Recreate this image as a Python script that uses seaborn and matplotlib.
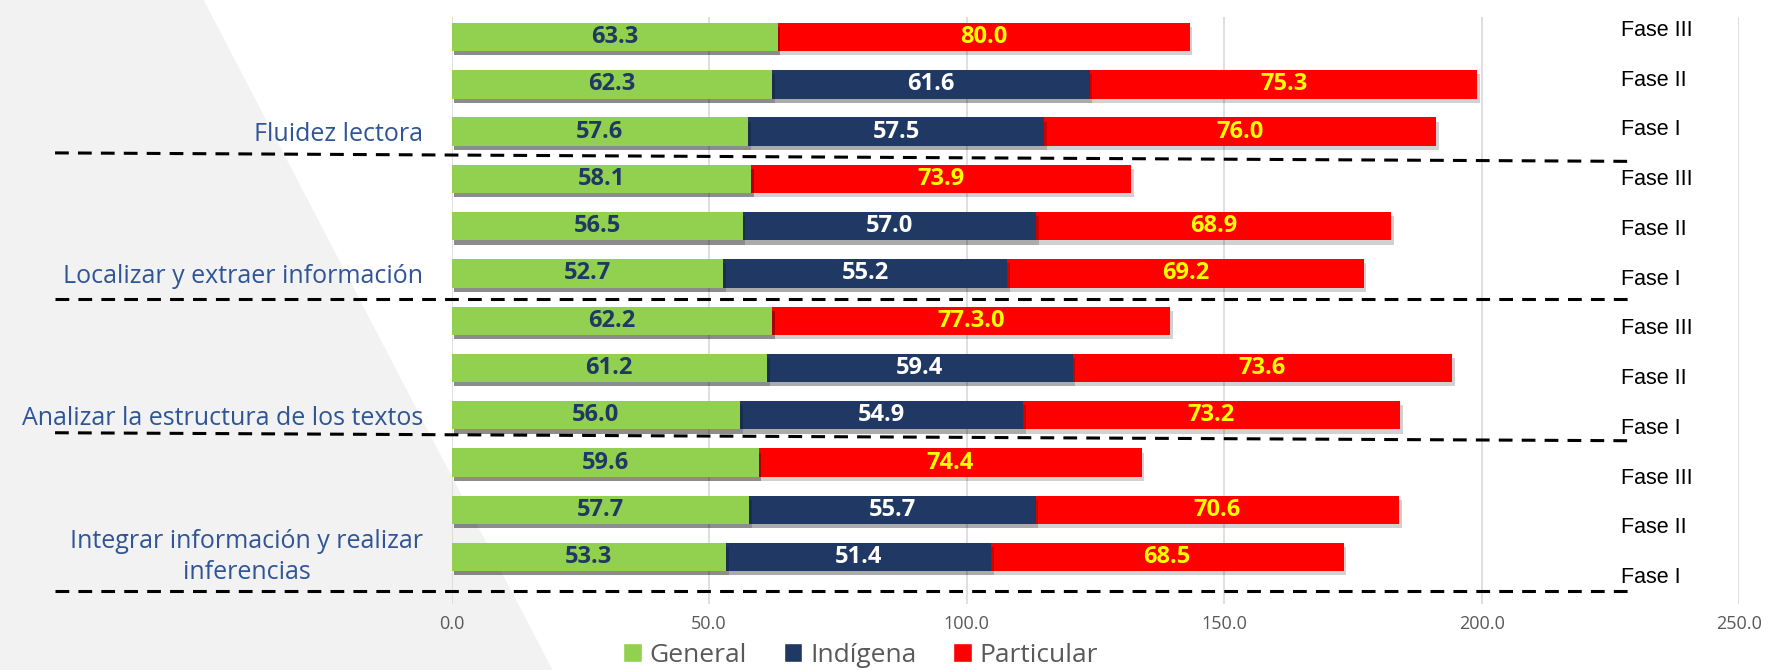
import numpy as np
import pandas as pd
import matplotlib
matplotlib.use("Agg")
import matplotlib.pyplot as plt
import matplotlib.patheffects as pe
from matplotlib.patches import Patch, Polygon
import seaborn as sns

# Data (top bar first)
competencias = ["Fluidez lectora", "Localizar y extraer información",
                "Analizar la estructura de los textos",
                "Integrar información y realizar\ninferencias"]
fases = ["Fase III", "Fase II", "Fase I"]

general = [63.3, 62.3, 57.6, 58.1, 56.5, 52.7, 62.2, 61.2, 56.0, 59.6, 57.7, 53.3]
indigena = [np.nan, 61.6, 57.5, np.nan, 57.0, 55.2, np.nan, 59.4, 54.9, np.nan, 55.7, 51.4]
particular = [80.0, 75.3, 76.0, 73.9, 68.9, 69.2, 77.3, 73.6, 73.2, 74.4, 70.6, 68.5]
particular_labels = ["80.0", "75.3", "76.0", "73.9", "68.9", "69.2",
                     "77.3.0", "73.6", "73.2", "74.4", "70.6", "68.5"]

x_ticks = [0, 50, 100, 150, 200, 250]

C_GEN = "#92d050"
C_IND = "#1f3864"
C_PAR = "#ff0000"

rows = [f"{c}|{f}" for c in competencias for f in fases]
df = pd.DataFrame({"row": rows, "General": general,
                   "Indígena": indigena, "Particular": particular})
df["Indígena0"] = df["Indígena"].fillna(0)
df["cum_gen"] = df["General"]
df["cum_ind"] = df["cum_gen"] + df["Indígena0"]
df["cum_par"] = df["cum_ind"] + df["Particular"]

sns.set_theme(style="white")
plt.rcParams["font.family"] = ["Open Sans", "DejaVu Sans"]

fig = plt.figure(figsize=(17.71, 6.70), dpi=100)

# light gray diagonal background
fig.patches.append(Polygon([(0, 1), (0.115, 1), (0.312, 0), (0, 0)], closed=True,
                           transform=fig.transFigure, facecolor="#f2f2f2",
                           edgecolor="none", zorder=-10))

ax = fig.add_axes([0.255, 0.098, 0.727, 0.877])
ax.set_zorder(1)
ax.patch.set_alpha(0)

shadow = [pe.SimplePatchShadow(offset=(2, -3), shadow_rgbFace="#000000", alpha=0.18),
          pe.Normal()]

# stacked bars via overlaid cumulative totals
for col, color in [("cum_par", C_PAR), ("cum_ind", C_IND), ("cum_gen", C_GEN)]:
    sns.barplot(data=df, x=col, y="row", orient="h", color=color, width=0.6,
                saturation=1, ax=ax, zorder=3, linewidth=0)
for p in ax.patches:
    p.set_path_effects(shadow)

# value labels
ypos = np.arange(len(df))
for i in ypos:
    g, ind, par = df.loc[i, "General"], df.loc[i, "Indígena"], df.loc[i, "Particular"]
    ax.text(g / 2, i, f"{g:.1f}", ha="center", va="center", color=C_IND,
            fontsize=17, fontweight="bold", zorder=5)
    if not np.isnan(ind):
        ax.text(g + ind / 2, i, f"{ind:.1f}", ha="center", va="center", color="white",
                fontsize=17, fontweight="bold", zorder=5)
    ax.text(df.loc[i, "cum_ind"] + par / 2, i, particular_labels[i], ha="center",
            va="center", color="#ffff00", fontsize=17, fontweight="bold", zorder=5)

# phase labels on the right
for i in ypos:
    ax.text(227, -0.14 + i * 1.052, fases[i % 3], ha="left", va="center", fontsize=15.5,
            color="black", family=["Liberation Sans", "DejaVu Sans"], zorder=5)

# competency labels on the left
comp_y = [2.07, 5.07, 8.07, 11.0]
for name, y in zip(competencias, comp_y):
    ax.text(-5.5, y, name, ha="right", va="center", fontsize=18, color="#2f5597",
            linespacing=1.35, multialignment="center", clip_on=False)

# dashed separators
separators = [(2.45, 2.63), (5.55, 5.55), (8.37, 8.54), (11.72, 11.72)]
for yl, yr in separators:
    ax.plot([-77, 230], [yl, yr], color="black", lw=2.2, ls=(0, (4.5, 3)),
            clip_on=False, zorder=6)

ax.set_xlim(0, 250)
ax.set_ylim(12.0, -0.43)
ax.set_xticks(x_ticks)
ax.set_xticklabels([f"{t:.1f}" for t in x_ticks], fontsize=13, color="#595959")
ax.set_yticks([])
ax.set_xlabel("")
ax.set_ylabel("")
ax.tick_params(axis="x", length=0, pad=8)
ax.grid(axis="x", color="#d9d9d9", lw=1.2, zorder=0)
for s in ax.spines.values():
    s.set_visible(False)

handles = [Patch(facecolor=C_GEN, label="General"),
           Patch(facecolor=C_IND, label="Indígena"),
           Patch(facecolor=C_PAR, label="Particular")]
leg = fig.legend(handles=handles, loc="center", bbox_to_anchor=(0.486, 0.022), ncol=3,
                 frameon=False, fontsize=19, handlelength=0.7, handleheight=0.7,
                 handletextpad=0.3, columnspacing=1.4)
for t in leg.get_texts():
    t.set_color("#595959")

fig.savefig("out.png", dpi=100)
